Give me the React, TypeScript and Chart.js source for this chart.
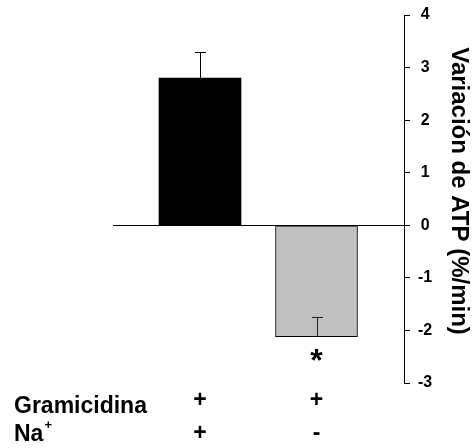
import { useEffect, useRef } from "react";
import { Chart, registerables } from "chart.js";

Chart.register(...registerables);

const categories = ["Gramicidina + / Na+ +", "Gramicidina + / Na+ -"];
const positions = [1, 2];
const values = [2.8, -2.12];
const errors = [0.5, 0.37];
const barColors = ["#000000", "#c0c0c0"];
const barBorders = [0, 1];
const gramicidinaRow = ["+", "+"];
const sodiumRow = ["+", "-"];
const significance = ["", "*"];
const yMin = -3;
const yMax = 4;
const yStep = 1;
const yTitle = "Variación de ATP (%/min)";
const rowLabel1 = "Gramicidina";
const rowLabel2 = "Na";
const rowLabel2Sup = "+";

const FONT = "'Liberation Sans', Arial, Helvetica, sans-serif";

const overlay = {
  id: "overlay",
  beforeDatasetsDraw(chart: any) {
    const { ctx, chartArea, scales } = chart;
    const y = scales.y;
    ctx.save();
    const y0 = Math.round(y.getPixelForValue(0)) + 0.5;
    ctx.strokeStyle = "#000";
    ctx.lineWidth = 1;
    ctx.beginPath();
    ctx.moveTo(chartArea.left, y0);
    ctx.lineTo(chartArea.right, y0);
    ctx.stroke();
    ctx.restore();
  },
  afterDatasetsDraw(chart: any) {
    const { ctx, scales } = chart;
    const x = scales.x;
    const y = scales.y;
    ctx.save();
    ctx.lineWidth = 1;
    positions.forEach((p, i) => {
      const px = Math.round(x.getPixelForValue(p)) + 0.5;
      const ys = y.getPixelForValue(values[i]);
      const ye = Math.round(y.getPixelForValue(values[i] + errors[i])) + 0.5;
      ctx.strokeStyle = i === 0 ? "#000" : "#222";
      ctx.beginPath();
      ctx.moveTo(px, ys);
      ctx.lineTo(px, ye);
      ctx.moveTo(px - 5.5, ye);
      ctx.lineTo(px + 5.5, ye);
      ctx.stroke();
    });

    ctx.fillStyle = "#000";
    ctx.font = `bold 32px ${FONT}`;
    ctx.textAlign = "center";
    ctx.textBaseline = "middle";
    positions.forEach((p, i) => {
      if (!significance[i]) return;
      const px = x.getPixelForValue(p);
      const yb = y.getPixelForValue(Math.min(values[i], 0));
      ctx.fillText(significance[i], px, yb + 25);
    });

    ctx.font = `bold 23px ${FONT}`;
    ctx.textAlign = "left";
    ctx.textBaseline = "alphabetic";
    ctx.fillText(rowLabel1, 14, 413);
    ctx.fillText(rowLabel2, 14, 441);
    const w = ctx.measureText(rowLabel2).width;
    ctx.font = `bold 13px ${FONT}`;
    ctx.fillText(rowLabel2Sup, 14 + w + 1, 429);

    ctx.font = `bold 23px ${FONT}`;
    ctx.textAlign = "center";
    ctx.textBaseline = "middle";
    positions.forEach((p, i) => {
      const px = x.getPixelForValue(p);
      ctx.fillText(gramicidinaRow[i], px, 401);
      ctx.fillText(sodiumRow[i], px, 434);
    });

    ctx.save();
    ctx.font = `bold 24px ${FONT}`;
    ctx.textAlign = "center";
    ctx.textBaseline = "middle";
    ctx.translate(459, 191);
    ctx.rotate(Math.PI / 2);
    ctx.fillText(yTitle, 0, 0);
    ctx.restore();

    ctx.restore();
  },
};

export default function App() {
  const ref = useRef<HTMLCanvasElement | null>(null);

  useEffect(() => {
    if (!ref.current) return;
    const chart = new Chart(ref.current, {
      type: "bar",
      data: {
        labels: categories,
        datasets: [
          {
            data: positions.map((p, i) => ({ x: p, y: values[i] })) as any,
            backgroundColor: barColors,
            borderColor: "#000",
            borderWidth: barBorders,
            borderSkipped: false,
            barThickness: 82,
          },
        ],
      },
      options: {
        animation: false,
        responsive: false,
        layout: { padding: { left: 113, top: 15, bottom: 65, right: 0 } },
        plugins: { legend: { display: false }, tooltip: { enabled: false } },
        scales: {
          x: {
            type: "linear",
            min: 0.2532,
            max: 2.751,
            offset: false,
            display: false,
          },
          y: {
            position: "right",
            min: yMin,
            max: yMax,
            afterFit: (s: any) => {
              s.width = 69;
              s.paddingTop = 9;
              s.paddingBottom = 9;
            },
            ticks: {
              stepSize: yStep,
              color: "#000",
              font: { family: FONT, size: 16, weight: "bold" },
              padding: 8,
              crossAlign: "center",
            },
            grid: {
              drawOnChartArea: false,
              drawTicks: true,
              tickLength: 6,
              color: "#000",
              lineWidth: 1,
            },
            border: { display: true, color: "#000", width: 1 },
            title: { display: false },
          },
        },
      },
      plugins: [overlay],
    });
    return () => chart.destroy();
  }, []);

  return (
    <div style={{ position: "absolute", left: 0, top: 0, width: 473, height: 448 }}>
      <canvas ref={ref} width={473} height={448} style={{ display: "block" }} />
    </div>
  );
}
